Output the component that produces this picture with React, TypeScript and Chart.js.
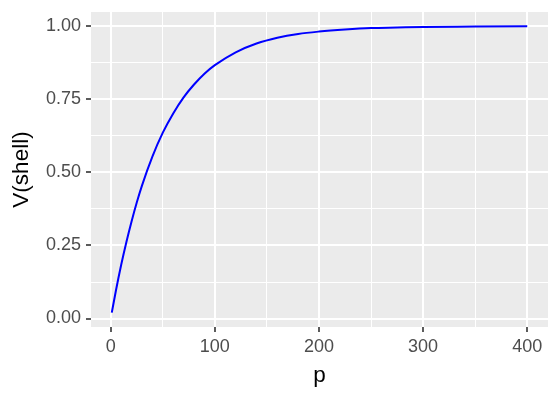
import React, { useEffect, useRef } from "react";
import { Chart, registerables } from "chart.js";
Chart.register(...registerables);

const pValues = [1, 5, 10, 15, 20, 25, 30, 40, 50, 60, 70, 80, 90, 100, 120, 140, 160, 180, 200, 225, 250, 275, 300, 350, 400];
const shellValues = [0.02, 0.096, 0.183, 0.261, 0.332, 0.397, 0.455, 0.554, 0.636, 0.702, 0.757, 0.801, 0.838, 0.867, 0.911, 0.941, 0.961, 0.974, 0.982, 0.989, 0.994, 0.996, 0.998, 0.999, 1.0];
const xMajorTicks = [0, 100, 200, 300, 400];
const xMinorTicks = [50, 150, 250, 350];
const yMajorTicks = [0, 0.25, 0.5, 0.75, 1.0];
const yMinorTicks = [0.125, 0.375, 0.625, 0.875];

const bgPlugin = {
  id: "panelBg",
  beforeDraw(chart: any) {
    const { ctx, chartArea } = chart;
    ctx.save();
    ctx.fillStyle = "#EBEBEB";
    ctx.fillRect(chartArea.left, chartArea.top, chartArea.right - chartArea.left, chartArea.bottom - chartArea.top);
    ctx.restore();
  },
};

export default function App() {
  const ref = useRef<HTMLCanvasElement>(null);
  useEffect(() => {
    document.body.style.margin = "0";
    const font = "'Liberation Sans', Arial, sans-serif";
    const isMajor = (list: number[], v: number) => list.some((m) => Math.abs(m - v) < 1e-9);
    const chart = new Chart(ref.current!, {
      type: "line",
      data: {
        datasets: [
          {
            data: pValues.map((p, i) => ({ x: p, y: shellValues[i] })),
            borderColor: "#0000FF",
            borderWidth: 2,
            pointRadius: 0,
            cubicInterpolationMode: "monotone",
            fill: false,
          },
        ],
      },
      options: {
        animation: false,
        responsive: false,
        maintainAspectRatio: false,
        layout: { padding: { top: 12, right: 12, left: 0, bottom: 0 } },
        plugins: { legend: { display: false }, tooltip: { enabled: false } },
        scales: {
          x: {
            type: "linear",
            min: -18.95,
            max: 419.95,
            afterBuildTicks: (scale: any) => {
              scale.ticks = [...xMajorTicks, ...xMinorTicks].sort((a, b) => a - b).map((v) => ({ value: v }));
            },
            afterFit: (scale: any) => {
              scale.height = 73;
              scale.paddingLeft = 0;
              scale.paddingRight = 0;
            },
            border: { display: false },
            grid: {
              color: "#FFFFFF",
              lineWidth: (c: any) => (isMajor(xMajorTicks, c.tick?.value) ? 2 : 1),
              tickColor: (c: any) => (isMajor(xMajorTicks, c.tick?.value) ? "#333333" : "rgba(0,0,0,0)"),
              tickWidth: 1.6,
              tickLength: 5,
              drawTicks: true,
            },
            ticks: {
              autoSkip: false,
              maxRotation: 0,
              padding: 4,
              color: "#4D4D4D",
              font: { family: font, size: 18 },
              callback: (v: any) => (isMajor(xMajorTicks, Number(v)) ? String(v) : ""),
            },
            title: {
              display: true,
              text: "p",
              color: "#000000",
              font: { family: font, size: 22.5 },
              padding: { top: 0, bottom: 10.5 },
            },
          },
          y: {
            type: "linear",
            min: -0.029,
            max: 1.049,
            afterBuildTicks: (scale: any) => {
              scale.ticks = [...yMajorTicks, ...yMinorTicks].sort((a, b) => a - b).map((v) => ({ value: v }));
            },
            afterFit: (scale: any) => {
              scale.width = 91;
              scale.paddingTop = 0;
              scale.paddingBottom = 0;
            },
            border: { display: false },
            grid: {
              color: "#FFFFFF",
              lineWidth: (c: any) => (isMajor(yMajorTicks, c.tick?.value) ? 2 : 1),
              tickColor: (c: any) => (isMajor(yMajorTicks, c.tick?.value) ? "#333333" : "rgba(0,0,0,0)"),
              tickWidth: 1.6,
              tickLength: 5,
              drawTicks: true,
            },
            ticks: {
              autoSkip: false,
              padding: 5,
              color: "#4D4D4D",
              font: { family: font, size: 18 },
              callback: (v: any) => (isMajor(yMajorTicks, Number(v)) ? Number(v).toFixed(2) : ""),
            },
            title: {
              display: true,
              text: "V(shell)",
              color: "#000000",
              font: { family: font, size: 22.5 },
              padding: { top: 8, bottom: 0 },
            },
          },
        },
      },
      plugins: [bgPlugin],
    } as any);
    return () => chart.destroy();
  }, []);
  return <canvas ref={ref} width={560} height={400} style={{ display: "block" }} />;
}
